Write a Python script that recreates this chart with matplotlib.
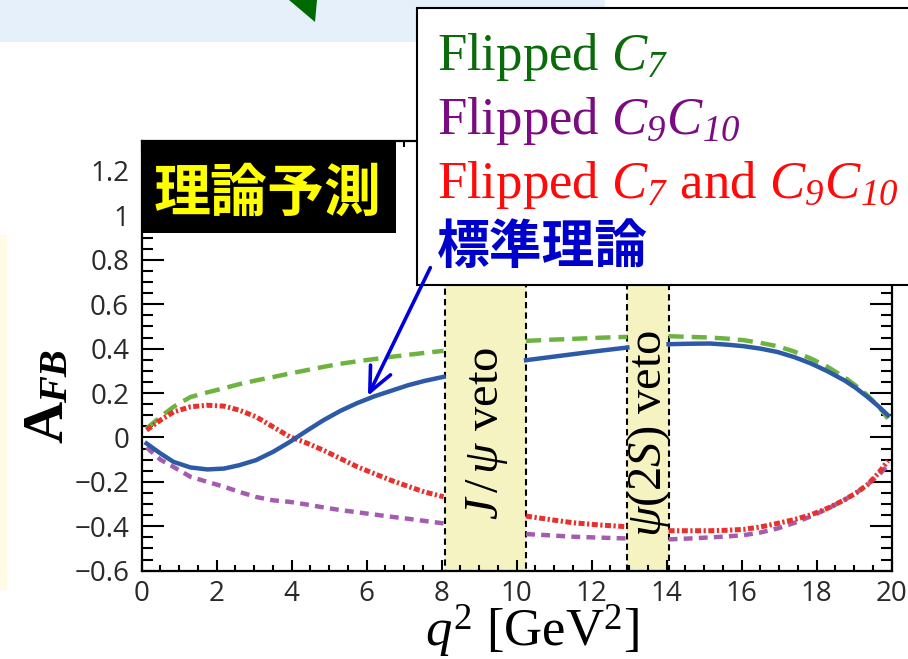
import numpy as np
import matplotlib
matplotlib.use("Agg")
import matplotlib.pyplot as plt
from matplotlib.ticker import MultipleLocator, FixedLocator, FixedFormatter
from matplotlib.patches import Rectangle, Polygon, FancyArrowPatch

nan = float("nan")

# q^2 [GeV^2] sample points, nan = gap at the J/psi and psi(2S) vetoes
q2 = [0.13, 0.5, 0.85, 1.3, 1.75, 2.2, 2.6, 3.05, 3.5, 3.95, 4.4, 4.85, 5.3, 5.75,
      6.2, 6.65, 7.1, 7.55, 8.05,
      nan,
      10.25, 10.9, 11.5, 12.2, 12.95,
      nan,
      14.05, 14.6, 15.15, 15.6, 16.05, 16.5, 16.95, 17.4, 17.85, 18.3, 18.75,
      19.05, 19.35, 19.65, 19.9]

afb_sm = [-0.027, -0.072, -0.11, -0.135, -0.144, -0.14, -0.125, -0.102, -0.065, -0.02,
          0.03, 0.078, 0.12, 0.155, 0.185, 0.21, 0.235, 0.255, 0.273,
          nan,
          0.348, 0.362, 0.375, 0.39, 0.405,
          nan,
          0.42, 0.422, 0.423, 0.418, 0.411, 0.4, 0.385, 0.362, 0.333, 0.297, 0.256,
          0.222, 0.183, 0.14, 0.1]

afb_c7 = [0.04, 0.093, 0.138, 0.182, 0.203, 0.222, 0.24, 0.257, 0.272, 0.288,
          0.303, 0.318, 0.332, 0.343, 0.353, 0.363, 0.372, 0.381, 0.39,
          nan,
          0.435, 0.44, 0.444, 0.449, 0.453,
          nan,
          0.456, 0.453, 0.45, 0.445, 0.438, 0.426, 0.411, 0.387, 0.355, 0.317, 0.27,
          0.232, 0.19, 0.14, 0.085]

afb_c9c10 = [-0.045, -0.1, -0.133, -0.177, -0.2, -0.222, -0.245, -0.268, -0.283, -0.29,
             -0.302, -0.315, -0.327, -0.337, -0.347, -0.357, -0.366, -0.376, -0.387,
             nan,
             -0.435, -0.441, -0.447, -0.451, -0.455,
             nan,
             -0.459, -0.455, -0.45, -0.446, -0.44, -0.428, -0.41, -0.385, -0.355, -0.32,
             -0.28, -0.25, -0.213, -0.17, -0.125]

afb_both = [0.033, 0.078, 0.115, 0.138, 0.145, 0.141, 0.123, 0.093, 0.048, 0.003,
            -0.025, -0.058, -0.095, -0.132, -0.163, -0.193, -0.22, -0.246, -0.267,
            nan,
            -0.354, -0.37, -0.384, -0.394, -0.402,
            nan,
            -0.42, -0.42, -0.42, -0.418, -0.414, -0.403, -0.387, -0.37, -0.348, -0.318,
            -0.28, -0.25, -0.213, -0.16, -0.105]

veto_lo = [8.1, 12.95]
veto_hi = [10.25, 14.05]
veto_text = [r"$J\,/\,\psi$ veto", r"$\psi(2S)$ veto"]

xticks = [0, 2, 4, 6, 8, 10, 12, 14, 16, 18, 20]
yticks = [-0.6, -0.4, -0.2, 0, 0.2, 0.4, 0.6, 0.8, 1.0, 1.2]
ytick_labels = ["\u22120.6", "\u22120.4", "\u22120.2", "0", "0.2", "0.4", "0.6", "0.8", "1", "1.2"]

# \mathsf is mapped to serif italic so the subscript digits come out italic too
legend_texts = [r"Flipped $\mathsf{C_{7}}$",
                r"Flipped $\mathsf{C_{9}C_{10}}$",
                r"Flipped $\mathsf{C_{7}}$ and $\mathsf{C_{9}C_{10}}$"]
legend_colors = ["#0b6b0b", "#7b0b82", "#ff0a0a"]

plt.rcParams["font.family"] = ["Open Sans", "DejaVu Sans"]
plt.rcParams["mathtext.fontset"] = "custom"
plt.rcParams["mathtext.rm"] = "Liberation Serif"
plt.rcParams["mathtext.it"] = "Liberation Serif:italic"
plt.rcParams["mathtext.bf"] = "Liberation Serif:bold"
plt.rcParams["mathtext.sf"] = "Liberation Serif:italic"

W, H = 908, 659
fig = plt.figure(figsize=(W / 100, H / 100), dpi=100)


def fx(x):
    return x / W


def fy(y):
    return 1 - y / H


# slide background bits
fig.patches.append(Rectangle((0, fy(42)), fx(605), 42 / H, transform=fig.transFigure,
                             facecolor="#e6f0fa", edgecolor="none", zorder=-5))
fig.patches.append(Polygon([(fx(289), fy(0)), (fx(317), fy(0)), (fx(315), fy(22))],
                           closed=True, transform=fig.transFigure,
                           facecolor="#006a00", edgecolor="none", zorder=-5))
fig.patches.append(Rectangle((0, fy(590)), fx(7), 355 / H, transform=fig.transFigure,
                             facecolor="#fffbe6", edgecolor="none", zorder=-5))

ax = fig.add_axes([fx(141.7), fy(570.7), 750 / W, (570.7 - 141) / H])
ax.set_xlim(0, 20)
ax.set_ylim(-0.6, 1.335)

for lo, hi, txt in zip(veto_lo, veto_hi, veto_text):
    ax.axvspan(lo, hi, facecolor="#f6f3c2", edgecolor="black", lw=1.5,
               linestyle=(0, (3, 2)), zorder=1)
    ax.text((lo + hi) / 2 + 0.03, 0.02, txt, rotation=90, ha="center", va="center",
            fontsize=35, family="Liberation Serif", zorder=2)

ax.plot(q2, afb_c7, color="#6cb43f", lw=3.2, dashes=(3.4, 1.8), zorder=3)
ax.plot(q2, afb_c9c10, color="#a45caf", lw=3.2, dashes=(2.0, 1.4), zorder=3)
ax.plot(q2, afb_both, color="#e8302c", lw=3.6, dashes=(1.2, 0.5, 0.45, 0.5), zorder=4)
ax.plot(q2, afb_sm, color="#2c5aa6", lw=3.2, zorder=5)

ax.xaxis.set_major_locator(FixedLocator(xticks))
ax.xaxis.set_minor_locator(MultipleLocator(0.5))
ax.yaxis.set_major_locator(FixedLocator(yticks))
ax.yaxis.set_major_formatter(FixedFormatter(ytick_labels))
ax.yaxis.set_minor_locator(MultipleLocator(0.05))

ax.tick_params(which="both", direction="in", top=True, right=True, width=1.5,
               labelsize=20, labelcolor="#2a2a2a")
ax.tick_params(axis="x", which="major", length=8, pad=7)
ax.tick_params(axis="x", which="minor", length=4)
ax.tick_params(axis="y", which="major", length=16, pad=9)
ax.tick_params(axis="y", which="minor", length=8)
for s in ax.spines.values():
    s.set_linewidth(1.6)

# axis titles
fig.text(fx(532), fy(646), r"$q^{2}$ [GeV$^{2}$]", ha="center", va="baseline",
         fontsize=38, family="Liberation Serif")
fig.text(fx(62), fy(443), "A", rotation=90, rotation_mode="anchor", ha="left",
         va="baseline", fontsize=42, family="Liberation Serif", weight="bold")
fig.text(fx(67), fy(403), "FB", rotation=90, rotation_mode="anchor", ha="left",
         va="baseline", fontsize=29, family="Liberation Serif", weight="bold",
         style="italic")

# black tag box
fig.patches.append(Rectangle((fx(141.7), fy(233)), (396 - 141.7) / W, 92 / H,
                             transform=fig.transFigure, facecolor="black",
                             edgecolor="none", zorder=6))
fig.text(fx(268), fy(211), "理論予測", ha="center", va="baseline", fontsize=41,
         color="#ffff00", weight="bold", family=["Noto Sans CJK JP"], zorder=7)

# legend box
fig.patches.append(Rectangle((fx(417), fy(285)), (920 - 417) / W, 277 / H,
                             transform=fig.transFigure, facecolor="white",
                             edgecolor="black", lw=1.5, zorder=6))
for i, (t, c) in enumerate(zip(legend_texts, legend_colors)):
    fig.text(fx(437), fy(70 + 64 * i), t, ha="left", va="baseline", fontsize=38,
             color=c, family="Liberation Serif", zorder=7)
fig.text(fx(437), fy(263), "標準理論", ha="left", va="baseline", fontsize=38,
         color="#0000cc", weight="bold", family=["Noto Sans CJK JP"], zorder=7)

arrow = FancyArrowPatch((7.73, 0.776), (6.0, 0.176), transform=ax.transData,
                        arrowstyle="->,head_length=1.1,head_width=0.5",
                        mutation_scale=16, color="#0000dd", lw=2.6, zorder=8)
fig.patches.append(arrow)

fig.savefig("out.png", dpi=100)
